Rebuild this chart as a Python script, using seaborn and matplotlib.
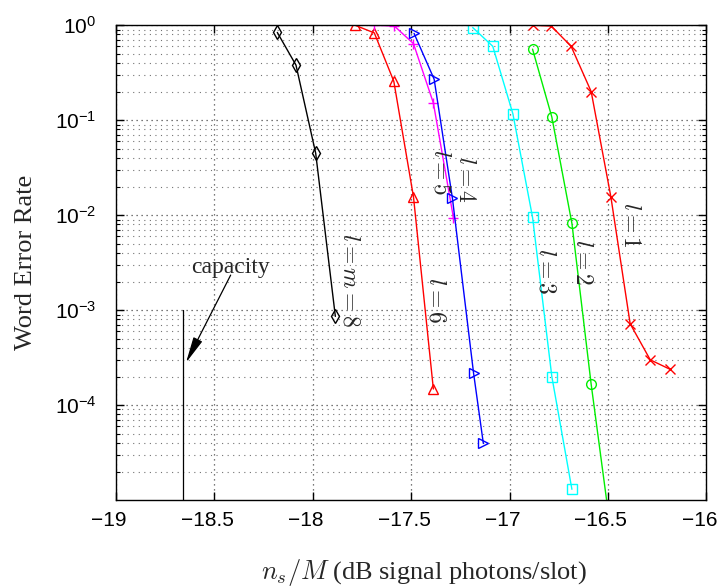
import numpy as np
import pandas as pd
import matplotlib
matplotlib.use("Agg")
import matplotlib.pyplot as plt
import matplotlib.ticker as mticker
import matplotlib.transforms as mtransforms
import seaborn as sns

# word error rate curves, one per l
x_l8 = [-18.18, -18.085, -17.985, -17.885]
y_l8 = [0.84, 0.38, 0.045, 8.6e-4]
x_l6 = [-17.785, -17.687, -17.588, -17.488, -17.387]
y_l6 = [1.0, 0.83, 0.257, 0.0156, 1.48e-4]
x_l5 = [-17.687, -17.585, -17.488, -17.387, -17.285]
y_l5 = [1.0, 0.98, 0.64, 0.152, 0.0094]
x_l4 = [-17.485, -17.383, -17.29, -17.183, -17.133]
y_l4 = [0.82, 0.27, 0.015, 2.2e-4, 3.95e-5]
x_l3 = [-17.187, -17.085, -16.983, -16.883, -16.785, -16.683]
y_l3 = [0.945, 0.6, 0.117, 0.0095, 2.0e-4, 1.3e-5]
x_l2 = [-16.883, -16.785, -16.683, -16.585, -16.485]
y_l2 = [0.56, 0.108, 0.0082, 1.65e-4, 4.6e-6]
x_l1 = [-16.883, -16.788, -16.687, -16.585, -16.485, -16.387, -16.285, -16.187]
y_l1 = [1.0, 0.98, 0.6, 0.2, 0.0156, 7.2e-4, 3.0e-4, 2.4e-4]

capacity = -18.658
x_ticks = [-19, -18.5, -18, -17.5, -17, -16.5, -16]
y_ticks = [1e-4, 1e-3, 1e-2, 1e-1, 1e0]

curves = [
    (x_l8, y_l8, "black", "d", r"$l = m = 8$", (-17.815, 2.07e-3)),
    (x_l6, y_l6, "red", "^", r"$l = 6$", (-17.378, 1.27e-3)),
    (x_l5, y_l5, "magenta", "+", r"$l = 5$", (-17.353, 0.0284)),
    (x_l4, y_l4, "blue", ">", r"$l = 4$", (-17.226, 0.0239)),
    (x_l3, y_l3, "cyan", "s", r"$l = 3$", (-16.819, 2.57e-3)),
    (x_l2, y_l2, "#00ee00", "o", r"$l = 2$", (-16.631, 3.2e-3)),
    (x_l1, y_l1, "red", "x", r"$l = 1$", (-16.387, 8.0e-3)),
]

sns.set_style("ticks")
plt.rcParams["font.family"] = ["Liberation Sans", "DejaVu Sans"]
plt.rcParams["mathtext.fontset"] = "cm"

fig = plt.figure(figsize=(7.2, 5.87), dpi=100)
ax = fig.add_axes([0.161, 0.148, 0.82, 0.809])

for xs, ys, col, mk, lab, pos in curves:
    df = pd.DataFrame({"x": xs, "y": ys})
    sns.lineplot(data=df, x="x", y="y", ax=ax, color=col, marker=mk,
                 markersize=7, markerfacecolor="none", markeredgecolor=col,
                 markeredgewidth=1.0, linewidth=1.0, sort=False, estimator=None)
    ax.text(pos[0], pos[1], lab, rotation=-90, ha="center", va="center",
            fontsize=17, color="0.15")

ax.plot([capacity, capacity], [1e-3, 1e-5], color="black", lw=0.9)
ax.text(-18.42, 2.45e-3, "capacity", family="Liberation Serif", fontsize=17,
        ha="center", va="baseline", color="0.15")
ax.annotate("", xy=(-18.644, 2.8e-4), xytext=(-18.417, 2.34e-3),
            arrowprops=dict(arrowstyle="-|>,head_length=0.8,head_width=0.15",
                            color="black", lw=0.9, mutation_scale=20,
                            shrinkA=0, shrinkB=0))

ax.set_yscale("log")
ax.set_xlim(-19, -16)
ax.set_ylim(1.0e-5, 1.0)
ax.set_xticks(x_ticks)
ax.xaxis.set_major_formatter(mticker.FuncFormatter(
    lambda v, p: ("%g" % v).replace("-", "\u2212")))
ax.set_yticks(y_ticks)
ax.yaxis.set_major_formatter(mticker.FuncFormatter(
    lambda v, p: r"$\mathregular{10^{%d}}$" % round(np.log10(v))))
ax.yaxis.set_minor_locator(mticker.LogLocator(base=10, subs=np.arange(2, 10)))
ax.yaxis.set_minor_formatter(mticker.NullFormatter())

ax.tick_params(which="both", direction="in", top=True, right=True,
               labelsize=15, colors="black")
ax.tick_params(which="major", length=6, width=1)
ax.tick_params(which="minor", length=3, width=0.8)
ax.tick_params(axis="y", which="major", pad=14)
ax.tick_params(axis="x", which="major", pad=8)
ax.grid(True, which="major", linestyle=(0, (1, 3)), color="0.3", lw=0.9)
ax.grid(True, which="minor", axis="y", linestyle=(0, (1, 4)), color="0.45", lw=0.8)
for s in ax.spines.values():
    s.set_linewidth(1.0)
    s.set_color("black")

# tick labels sit a few pixels left of their ticks in the original
shift = mtransforms.ScaledTranslation(-7 / 100, 0, fig.dpi_scale_trans)
for t in ax.get_xticklabels():
    t.set_transform(t.get_transform() + shift)

ax.set_xlabel(r"$n_s/M$ (dB signal photons/slot)", family="Liberation Serif",
              fontsize=19, color="0.15")
ax.xaxis.set_label_coords(0.522, -0.119)
ax.set_ylabel("Word Error Rate", family="Liberation Serif", fontsize=19,
              labelpad=13, color="0.15")

fig.savefig("out.png", dpi=100)
